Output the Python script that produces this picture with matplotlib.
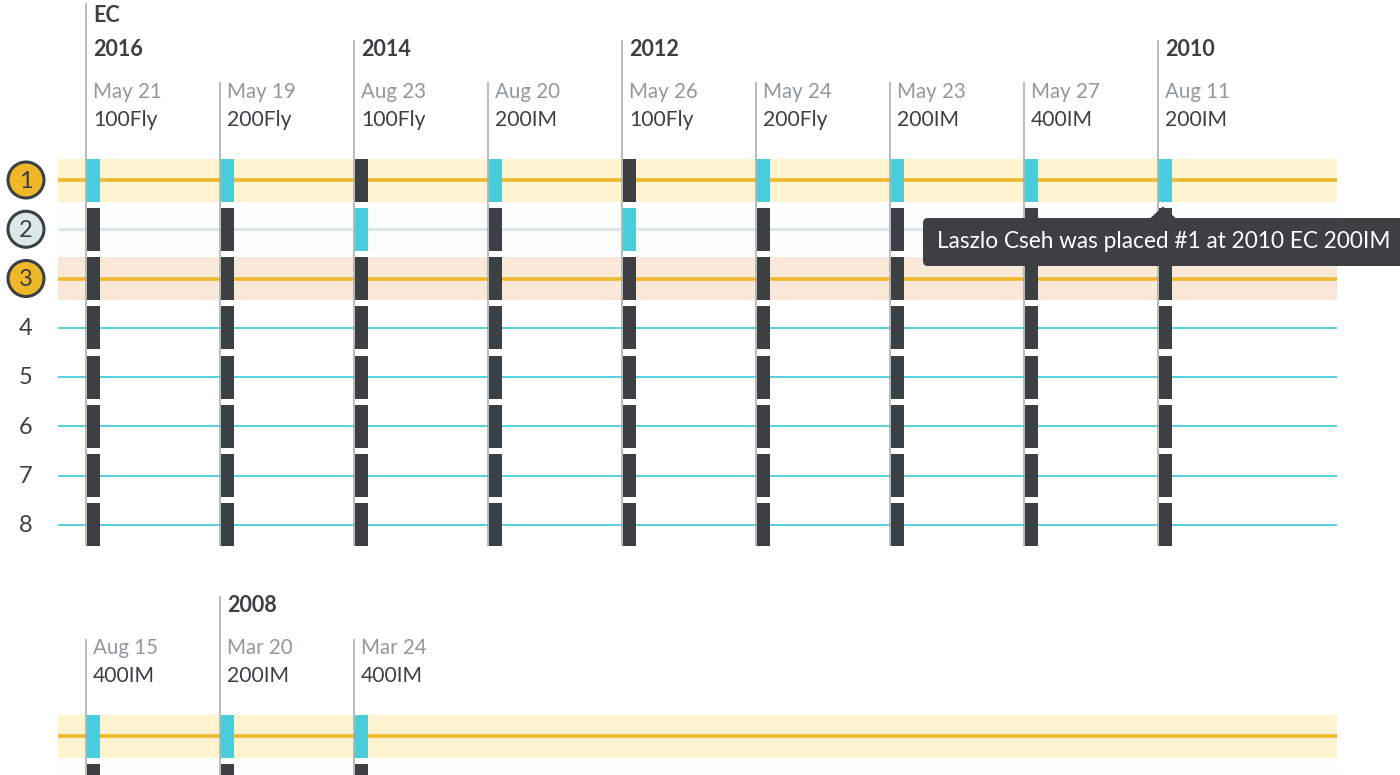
import matplotlib
matplotlib.use("Agg")
import matplotlib.pyplot as plt
from matplotlib.patches import Rectangle, Circle, FancyBboxPatch, Polygon

plt.rcParams['font.family'] = ['Lato', 'DejaVu Sans']

# data
ranks = [1, 2, 3, 4, 5, 6, 7, 8]
dates_a = ["May 21", "May 19", "Aug 23", "Aug 20", "May 26", "May 24", "May 23", "May 27", "Aug 11"]
events_a = ["100Fly", "200Fly", "100Fly", "200IM", "100Fly", "200Fly", "200IM", "400IM", "200IM"]
years_a = ["2016", "", "2014", "", "2012", "", "", "", "2010"]
placed_a = [1, 1, 2, 1, 2, 1, 1, 1, 1]
dates_b = ["Aug 15", "Mar 20", "Mar 24"]
events_b = ["400IM", "200IM", "400IM"]
years_b = ["", "2008", ""]
placed_b = [1, 1, 1]
tooltip = "Laszlo Cseh was placed #1 at 2010 EC 200IM"

DARK = "#3c4043"
CYAN = "#49ccdb"
GOLD = "#eeb82a"
GREY = "#a2a9a9"
DATE = "#8f9a9a"
band_col = {1: "#fff4cf", 2: "#fbfcfc", 3: "#f9e8d8"}
line_col = {1: GOLD, 2: "#dbe6e4", 3: GOLD}
circle_col = {1: GOLD, 2: "#dde9e7", 3: GOLD}

X0, XSTEP = 86, 134
RANK_STEP = 49.25
BAR_W, BAR_H = 13.5, 43
LEFT, RIGHT = 58, 1337


def col_x(i):
    return X0 + XSTEP * i


def rank_y(r, top):
    return top + (r - 1) * RANK_STEP


def draw_block(dates, events, years, placed, y_year, y_date, rank_top, bottom):
    for r in ranks:
        y = rank_y(r, rank_top)
        if r in band_col:
            ax.add_patch(Rectangle((LEFT, y - BAR_H / 2), RIGHT - LEFT, BAR_H, fc=band_col[r], ec="none", zorder=1))
            ax.plot([LEFT, RIGHT], [y, y], color=line_col[r], lw=2.6 if r != 2 else 2.2, solid_capstyle="butt", zorder=2)
        else:
            ax.plot([LEFT, RIGHT], [y, y], color=CYAN, lw=1.3, solid_capstyle="butt", zorder=2)
    for i, d in enumerate(dates):
        x = col_x(i)
        top = y_year - 10 if years[i] else y_date - 10
        ax.plot([x, x], [top, bottom], color=GREY, lw=1.1, solid_capstyle="butt", zorder=3)
        if years[i]:
            ax.text(x + 7, y_year, years[i], fontsize=15.5, fontweight="bold", color=DARK, va="center", ha="left")
        ax.text(x + 7, y_date, d, fontsize=14.8, color=DATE, va="center", ha="left")
        ax.text(x + 7, y_date + 28, events[i], fontsize=15.2, color=DARK, va="center", ha="left")
        for r in ranks:
            y = rank_y(r, rank_top)
            h0, h1 = y - BAR_H / 2, min(y + BAR_H / 2, bottom)
            c = CYAN if r == placed[i] else DARK
            ax.add_patch(Rectangle((x + 0.5, h0), BAR_W, h1 - h0, fc=c, ec="none", zorder=4))


fig = plt.figure(figsize=(14, 7.75), dpi=100)
ax = fig.add_axes([0, 0, 1, 1])
ax.set_xlim(0, 1400)
ax.set_ylim(775, 0)
ax.axis("off")

draw_block(dates_a, events_a, years_a, placed_a, 49.5, 92, 180, 546)
draw_block(dates_b, events_b, years_b, placed_b, 606, 648.5, 736, 790)

# EC label and the longer first rule
ax.plot([col_x(0), col_x(0)], [3, 40], color=GREY, lw=1.1, solid_capstyle="butt", zorder=3)
ax.text(col_x(0) + 7, 15, "EC", fontsize=15.5, fontweight="bold", color=DARK, va="center", ha="left")

# rank labels
for r in ranks:
    y = rank_y(r, 180)
    if r in circle_col:
        ax.add_patch(Circle((26, y), 18, fc=circle_col[r], ec=DARK, lw=2.2, zorder=5))
    ax.text(26, y + 1, str(r), fontsize=17, color=DARK, va="center", ha="center", zorder=6)

# tooltip
tip_x = col_x(8) + 5
ax.add_patch(FancyBboxPatch((923, 218), 520, 48, boxstyle="round,pad=0,rounding_size=5", fc=DARK, ec="none", zorder=7))
ax.add_patch(Polygon([(tip_x - 13, 218.5), (tip_x, 206.5), (tip_x + 13, 218.5)], fc=DARK, ec="none", zorder=7))
ax.text(937, 241, tooltip, fontsize=16.3, color="white", va="center", ha="left", zorder=8)

fig.savefig("out.png", dpi=100)
